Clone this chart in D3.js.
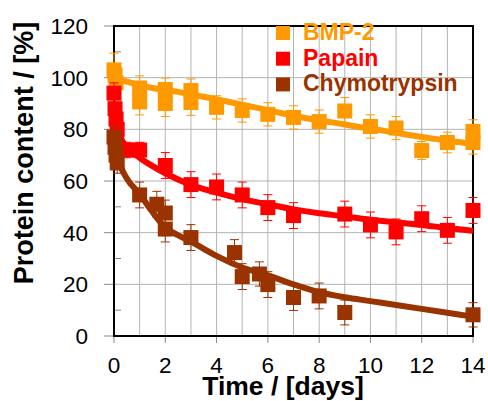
<!DOCTYPE html>
<html>
<head>
<meta charset="utf-8">
<script src="https://cdn.jsdelivr.net/npm/d3@7"></script>
<style>
  body { margin: 0; background: #fff; }
  svg { display: block; font-family: "Liberation Sans", Arial, sans-serif; }
</style>
</head>
<body>
<svg id="chart" width="488" height="401"></svg>
<script>
// measured points (time in days, protein content in %)
const bmpT = [0, 0.04, 0.08, 1, 1, 2, 2, 3, 3, 4, 5, 6, 7, 8, 9, 10, 11, 12, 13, 14, 14];
const bmpV = [103, 101, 98, 96, 90.6, 95.4, 90, 95, 90.4, 88.5, 87.3, 85.8, 84.6, 83, 87.1, 81.1, 80.5, 71.8, 74.9, 79.2, 74.9];
const bmpE = [6.5, 4, 4, 4.7, 5, 4.5, 5, 4.5, 5, 4.5, 4.5, 4.5, 4.5, 4.5, 5.2, 4.5, 4.5, 3.5, 4, 4.5, 4.5];

const papT = [0, 0.04, 0.08, 0.125, 0.5, 1, 2, 3, 4, 5, 6, 7, 9, 10, 11, 12, 13, 14];
const papV = [94, 88, 84, 80, 72, 72, 66, 58.6, 57.7, 54.6, 49.7, 46.6, 47.2, 43, 40.3, 45.4, 40.9, 48.6];
const papE = [4, 4, 4, 4, 3, 3, 5, 5, 5, 5, 5, 5, 5, 5, 5, 5, 5, 5];

const chyT = [0, 0.04, 0.08, 0.125, 1, 1.67, 2, 2, 3, 4.7, 5, 5.67, 6, 7, 8, 9, 14];
const chyV = [77, 73, 70, 67, 54.6, 51, 47.6, 41.4, 38.1, 32.3, 23, 24, 19.9, 14.9, 15.5, 9.1, 8.2];
const chyE = [4, 4, 4, 4, 5, 5, 5, 5, 5, 5, 5, 4.7, 5, 5, 5, 4.8, 4.7];

// fitted curves
const bmpFitT = [0, 0.5, 1.5, 2.5, 3.5, 4.5, 5.5, 6.5, 7.5, 8.5, 9.5, 10.5, 11.5, 12.5, 13.5, 14];
const bmpFitV = [100, 98.5, 96, 94.5, 92.6, 90.6, 88.5, 86.3, 84.3, 82.7, 81, 79.5, 77.8, 76.3, 75, 74.3];
const papFitT = [0, 0.15, 0.3, 0.5, 1, 2, 3, 4, 5, 6, 7, 8, 9, 10, 11, 12, 13, 14];
const papFitV = [90, 81, 76, 73, 69, 63, 58.5, 55.5, 53, 51, 49, 47.5, 46.3, 45, 44, 43, 41.8, 40.7];
const chyFitT = [0, 0.1, 0.25, 0.5, 1, 1.5, 2, 2.5, 3, 4, 5, 6, 7, 8, 9, 10, 11, 12, 13, 14];
const chyFitV = [78, 72, 66, 61, 55, 48, 42, 39, 36.5, 31, 26.5, 23.5, 20, 17, 15, 13.5, 12, 10.5, 9, 7.5];

const seriesNames = ["BMP-2", "Papain", "Chymotrypsin"];
const seriesColors = ["#ff9900", "#ff0000", "#993300"];
const xTicks = [0, 2, 4, 6, 8, 10, 12, 14];
const yTicks = [0, 20, 40, 60, 80, 100, 120];

const zip = (a, b, e) => a.map((t, i) => ({ t: t, v: b[i], e: e ? e[i] : 0 }));
const series = [
  { pts: zip(bmpT, bmpV, bmpE), fit: zip(bmpFitT, bmpFitV) },
  { pts: zip(papT, papV, papE), fit: zip(papFitT, papFitV) },
  { pts: zip(chyT, chyV, chyE), fit: zip(chyFitT, chyFitV) }
];

const svg = d3.select("#chart");
const L = 114, R = 473, T = 26, B = 336;

const x = d3.scaleLinear().domain([0, 14]).range([L, R]);
const y = d3.scaleLinear().domain([0, 120]).range([B, T]);

// grid
const grid = svg.append("g").attr("stroke", "#b4b4b4").attr("stroke-width", 1);
grid.selectAll(".vg").data(d3.range(1, 14)).join("line")
  .attr("x1", d => x(d)).attr("x2", d => x(d))
  .attr("y1", T).attr("y2", B);
grid.selectAll(".hg").data(yTicks.slice(1, -1)).join("line")
  .attr("x1", L).attr("x2", R)
  .attr("y1", d => y(d)).attr("y2", d => y(d));

// ticks
const ticks = svg.append("g").attr("stroke", "#888").attr("stroke-width", 1);
ticks.selectAll(".yt").data(yTicks).join("line")
  .attr("x1", L - 10).attr("x2", L)
  .attr("y1", d => y(d)).attr("y2", d => y(d));
ticks.selectAll(".ym").data([10, 30, 50, 70, 90, 110]).join("line")
  .attr("x1", L).attr("x2", L + 7)
  .attr("y1", d => y(d)).attr("y2", d => y(d));
ticks.selectAll(".xt").data(xTicks).join("line")
  .attr("x1", d => x(d)).attr("x2", d => x(d))
  .attr("y1", B).attr("y2", B + 7);

// frame
svg.append("rect")
  .attr("x", L).attr("y", T).attr("width", R - L).attr("height", B - T)
  .attr("fill", "none").attr("stroke", "#000").attr("stroke-width", 2);

// tick labels
svg.append("g").selectAll("text").data(yTicks).join("text")
  .attr("x", 88).attr("y", d => y(d) + 8)
  .attr("text-anchor", "end").attr("font-size", 22.5).attr("fill", "#000")
  .text(d => d);
svg.append("g").selectAll("text").data(xTicks).join("text")
  .attr("x", d => x(d)).attr("y", 373)
  .attr("text-anchor", "middle").attr("font-size", 22.5).attr("fill", "#000")
  .text(d => d);

// axis titles
svg.append("text")
  .attr("x", 283).attr("y", 395)
  .attr("text-anchor", "middle").attr("font-size", 26.5).attr("font-weight", "bold")
  .text("Time / [days]");
svg.append("text")
  .attr("transform", "translate(33,153) rotate(-90)")
  .attr("text-anchor", "middle").attr("font-size", 27).attr("font-weight", "bold")
  .text("Protein content / [%]");

// series
const line = d3.line().x(d => x(d.t)).y(d => y(d.v)).curve(d3.curveMonotoneX);
const ms = 15, cap = 9;

series.forEach((s, i) => {
  const col = seriesColors[i];
  const g = svg.append("g");
  const eb = g.append("g").attr("stroke", col).attr("stroke-width", 1);
  eb.selectAll(".v").data(s.pts).join("line")
    .attr("x1", d => x(d.t)).attr("x2", d => x(d.t))
    .attr("y1", d => y(d.v + d.e)).attr("y2", d => y(d.v - d.e));
  eb.selectAll(".hi").data(s.pts).join("line")
    .attr("x1", d => x(d.t) - cap / 2).attr("x2", d => x(d.t) + cap / 2)
    .attr("y1", d => y(d.v + d.e)).attr("y2", d => y(d.v + d.e));
  eb.selectAll(".lo").data(s.pts).join("line")
    .attr("x1", d => x(d.t) - cap / 2).attr("x2", d => x(d.t) + cap / 2)
    .attr("y1", d => y(d.v - d.e)).attr("y2", d => y(d.v - d.e));
  g.selectAll("rect").data(s.pts).join("rect")
    .attr("x", d => x(d.t) - ms / 2).attr("y", d => y(d.v) - ms / 2)
    .attr("width", ms).attr("height", ms).attr("fill", col);
  g.append("path").datum(s.fit)
    .attr("d", line).attr("fill", "none")
    .attr("stroke", col).attr("stroke-width", 6).attr("stroke-linejoin", "round");
});

// legend
const leg = svg.append("g").selectAll("g").data(seriesNames).join("g")
  .attr("transform", (d, i) => `translate(276,${26 + i * 25.7})`);
leg.append("rect").attr("width", 14).attr("height", 14)
  .attr("fill", (d, i) => seriesColors[i]);
leg.append("text")
  .attr("x", 27).attr("y", 14)
  .attr("font-size", 23).attr("font-weight", "bold")
  .attr("fill", (d, i) => seriesColors[i])
  .text(d => d);
</script>
</body>
</html>
